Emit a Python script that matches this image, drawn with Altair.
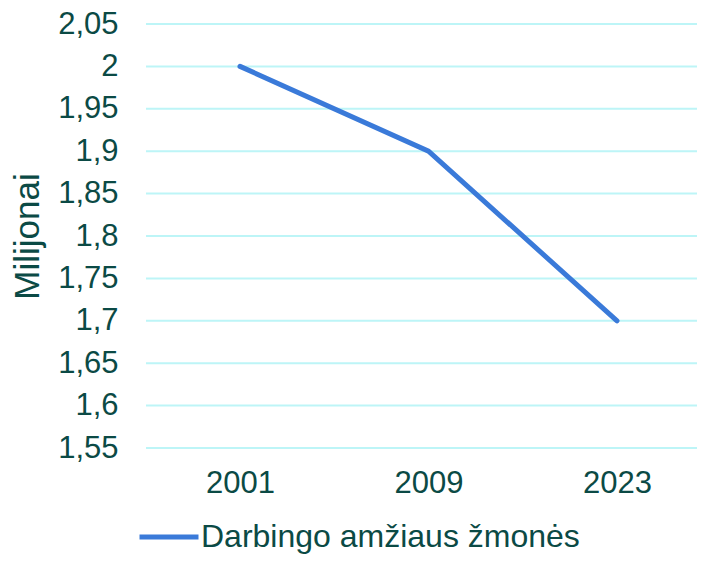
import altair as alt
import pandas as pd

years = ["2001", "2009", "2023"]
values = [2.0, 1.9, 1.7]
series_name = "Darbingo amžiaus žmonės"
y_ticks = [1.55, 1.6, 1.65, 1.7, 1.75, 1.8, 1.85, 1.9, 1.95, 2.0, 2.05]
y_title = "Milijonai"

df = pd.DataFrame({"year": years, "value": values, "series": [series_name] * len(years)})
grid_df = pd.DataFrame({"tick": y_ticks})

TEXT = "#0B4A45"
FONT = "Liberation Sans"
W, H = 551, 424

y_scale = alt.Scale(domain=[1.55, 2.05], nice=False, zero=False)

grid = alt.Chart(grid_df).mark_rule(color="#BDF5F7", strokeWidth=2).encode(
    y=alt.Y("tick:Q", scale=y_scale, title=y_title,
            axis=alt.Axis(values=y_ticks, domain=False, ticks=False, grid=False,
                          labelExpr="replace(format(datum.value, '~g'), '.', ',')",
                          labelPadding=28, labelFontSize=31, labelColor=TEXT, labelFont=FONT,
                          titleFontSize=35, titleColor=TEXT, titleFont=FONT, titleFontWeight="normal",
                          titlePadding=12)),
    x=alt.value(0),
    x2=alt.value(W),
)

line = alt.Chart(df).mark_line(strokeWidth=5, strokeCap="round").encode(
    x=alt.X("year:O", title=None, sort=years,
            scale=alt.Scale(type="point", range=[94, 471], padding=0),
            axis=alt.Axis(labelAngle=0, domain=False, ticks=False, grid=False,
                          labelPadding=20, labelFontSize=31, labelColor=TEXT, labelFont=FONT)),
    y=alt.Y("value:Q", scale=y_scale, title=y_title),
    color=alt.Color("series:N", scale=alt.Scale(range=["#3A7AD9"]),
                    legend=alt.Legend(title=None, orient="none", legendX=-9, legendY=481,
                                      symbolType="stroke", symbolSize=3480, symbolStrokeWidth=5,
                                      labelFontSize=32, labelColor=TEXT, labelFont=FONT,
                                      labelOffset=0, labelLimit=600)),
)

chart = alt.layer(grid, line).properties(
    width=W, height=H,
    padding={"left": 138, "top": 16, "right": 0, "bottom": 107},
    autosize=alt.AutoSizeParams(type="none"),
).configure_view(stroke=None)

chart.save("out.html", embed_options={"renderer": "svg", "actions": False})
